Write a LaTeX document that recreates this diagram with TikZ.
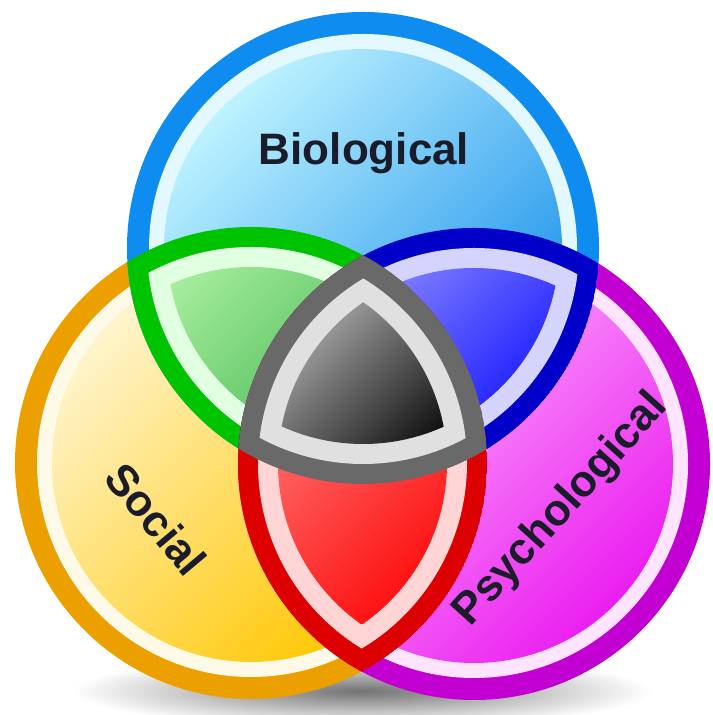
\documentclass[tikz,border=0pt]{standalone}
\usepackage{fontspec}
\setmainfont{Liberation Sans}
\usetikzlibrary{calc}

\definecolor{socring}{RGB}{235,160,0}
\definecolor{socpale}{RGB}{255,250,232}
\definecolor{sochi}{RGB}{255,244,205}
\definecolor{soclo}{RGB}{255,198,0}
\definecolor{bioring}{RGB}{15,140,240}
\definecolor{biopale}{RGB}{228,249,255}
\definecolor{biohi}{RGB}{190,242,255}
\definecolor{biolo}{RGB}{25,145,235}
\definecolor{psyring}{RGB}{195,0,210}
\definecolor{psypale}{RGB}{255,228,255}
\definecolor{psyhi}{RGB}{255,195,255}
\definecolor{psylo}{RGB}{235,30,240}
\definecolor{grnring}{RGB}{0,195,0}
\definecolor{grnpale}{RGB}{225,255,225}
\definecolor{grnhi}{RGB}{172,240,162}
\definecolor{grnlo}{RGB}{35,165,55}
\definecolor{bluring}{RGB}{0,0,200}
\definecolor{blupale}{RGB}{212,212,255}
\definecolor{bluhi}{RGB}{172,172,255}
\definecolor{blulo}{RGB}{0,0,255}
\definecolor{redring}{RGB}{220,0,0}
\definecolor{redpale}{RGB}{255,212,212}
\definecolor{redhi}{RGB}{255,140,140}
\definecolor{redlo}{RGB}{255,0,0}
\definecolor{txt}{RGB}{26,28,42}

\tikzset{
  label/.style={font=\bfseries\fontsize{22}{26}\selectfont, text=txt, inner sep=0pt},
  fillshade/.style 2 args={top color=#1, bottom color=#2, shading angle=45}
}

% nested clips: outer ring, pale band, shaded core of a two-circle overlap
\newcommand{\lens}[6]{
\begin{scope}
\clip (#1) circle (236); \clip (#2) circle (236);
\fill[#3] (#1) circle (236);
\clip (#1) circle (216); \clip (#2) circle (216);
\fill[#4] (#1) circle (236);
\clip (#1) circle (196); \clip (#2) circle (196);
\shade[fillshade={#5}{#6}] ($(#1)!0.5!(#2)$) +(-160,-160) rectangle +(160,160);
\end{scope}}

\begin{document}
\begin{tikzpicture}[x=0.5pt,y=0.5pt]
\fill[white] (0,0) rectangle (712,715);
\useasboundingbox (0,0) rectangle (712,715);

\coordinate (T) at (363,467);
\coordinate (L) at (251,252);
\coordinate (R) at (474,251);

% soft shadow under the lower circles
\shade[inner color=black!55, outer color=white] (362,24) ellipse (290 and 36);

\foreach \c/\ring/\pale/\hi/\lo in {L/socring/socpale/sochi/soclo, R/psyring/psypale/psyhi/psylo, T/bioring/biopale/biohi/biolo} {
  \fill[\ring] (\c) circle (236);
  \fill[\pale] (\c) circle (214);
  \shade[fillshade={\hi}{\lo}] (\c) circle (199);
}

\lens{T}{L}{grnring}{grnpale}{grnhi}{grnlo}
\lens{T}{R}{bluring}{blupale}{bluhi}{blulo}
\lens{L}{R}{redring}{redpale}{redhi}{redlo}

% the part common to all three
\begin{scope}
\clip (T) circle (236); \clip (L) circle (236); \clip (R) circle (236);
\fill[black!59] (T) circle (236);
\clip (T) circle (216); \clip (L) circle (216); \clip (R) circle (216);
\fill[black!12] (T) circle (236);
\clip (T) circle (196); \clip (L) circle (196); \clip (R) circle (196);
\shade[fillshade={black!30}{black}] (362,322) +(-100,-100) rectangle +(100,100);
\end{scope}

\node[label] (bio) at (364,550) [anchor=base] {Biological};
\node[label, rotate=-50] (soc) at (156,196) {Social};
\node[label, rotate=48] (psy) at (561,205) {Psychological};
\end{tikzpicture}
\end{document}
